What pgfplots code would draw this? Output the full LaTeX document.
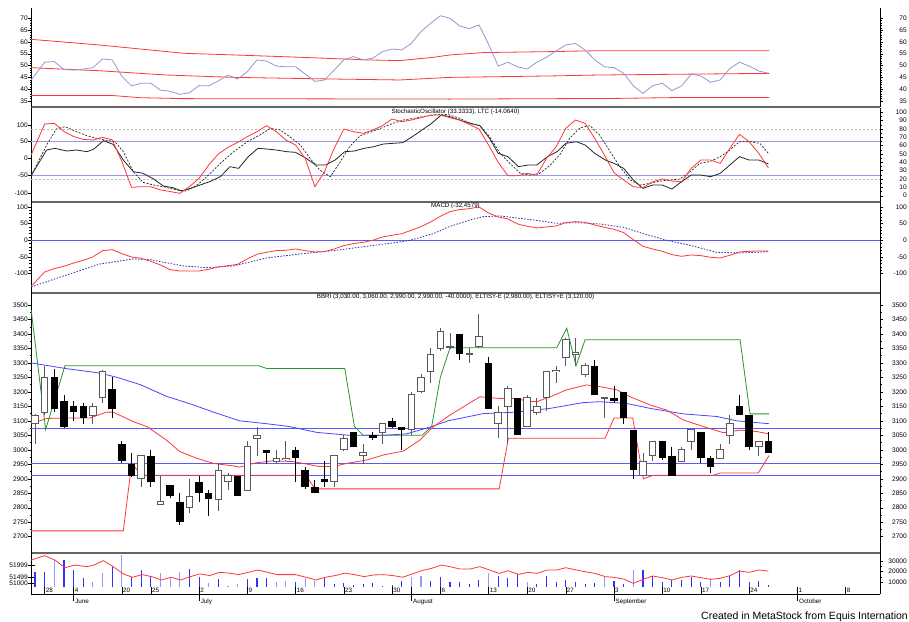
\documentclass[border=0pt]{standalone}
\usepackage{fontspec}
\setmainfont{Liberation Sans}
\usepackage{pgfplots}
\usepackage{pgfplotstable}
\pgfplotsset{compat=1.18}
\definecolor{mred}{RGB}{255,55,55}
\definecolor{mpurple}{RGB}{150,150,210}
\definecolor{mlblue}{RGB}{150,150,235}
\definecolor{mblue}{RGB}{70,70,255}
\definecolor{mhblue}{RGB}{90,90,255}
\definecolor{mnavy}{RGB}{50,50,160}
\definecolor{mgreen}{RGB}{40,150,40}
\definecolor{msep}{RGB}{100,100,100}
\definecolor{mvol}{RGB}{50,50,255}
\definecolor{mvoll}{RGB}{150,150,255}
\definecolor{mout}{RGB}{90,90,90}

\pgfplotstableread{
i o h l c
0 3090 3125 3020 3120
1 3130 3290 3120 3250
6 3120 3160 3090 3150
7 3180 3275 3160 3270
11 2900 2980 2870 2980
13 2810 2910 2810 2820
16 2800 2900 2780 2840
19 2830 2950 2790 2930
20 2890 2920 2860 2910
22 2860 3030 2860 3010
23 3040 3080 2980 3050
25 2960 3000 2950 2970
26 2965 3030 2960 2970
31 2890 2980 2870 2980
32 3000 3050 2995 3040
34 2980 3020 2950 2990
36 3060 3090 3020 3090
39 3070 3200 3050 3190
40 3200 3260 3195 3250
41 3270 3350 3230 3330
42 3350 3420 3340 3410
43 3355 3403 3348 3355
45 3330 3350 3300 3330
46 3355 3470 3350 3390
48 3090 3150 3040 3130
49 3150 3220 3020 3210
51 3080 3190 3080 3180
52 3130 3180 3120 3150
53 3180 3270 3135 3270
54 3270 3290 3230 3275
55 3320 3385 3290 3380
56 3330 3385 3290 3335
57 3260 3300 3250 3290
59 3180 3180 3110 3180
63 2910 2990 2910 2960
64 2980 3030 2960 3030
67 2960 3010 2960 3000
68 3030 3070 3000 3070
71 2970 3020 2970 3000
72 3050 3120 3020 3090
75 3010 3030 2980 3030
}\upcandles

\pgfplotstableread{
i o h l c
2 3250 3280 3130 3140
3 3170 3190 3075 3080
4 3150 3170 3100 3130
5 3150 3160 3090 3110
8 3210 3250 3110 3140
9 3020 3030 2955 2960
10 2950 2990 2905 2910
12 2980 3000 2870 2890
14 2880 2880 2835 2840
15 2820 2850 2740 2750
17 2890 2910 2820 2850
18 2850 2860 2770 2830
21 2910 2910 2840 2840
24 3000 3000 2950 2990
27 3000 3010 2890 2970
28 2930 2940 2865 2870
29 2870 2895 2850 2850
30 2900 2960 2870 2890
33 3060 3060 3010 3010
35 3050 3060 3035 3040
37 3100 3110 3075 3080
38 3080 3080 3000 3070
44 3400 3400 3310 3330
47 3300 3320 3140 3140
50 3180 3180 3050 3050
58 3290 3310 3190 3190
60 3180 3220 3160 3170
61 3200 3200 3090 3110
62 3070 3070 2900 2930
65 3030 3030 2965 2970
66 2980 3010 2910 2910
69 3060 3060 2955 2970
70 2970 2980 2920 2940
73 3150 3190 3120 3120
74 3120 3120 3000 3010
76 3030 3060 2990 2990
}\downcandles

\pgfplotsset{
  base/.style={scale only axis, width=849pt, xmin=-0.415, xmax=87.56,
    xtick=\empty, clip=true,
    tick align=outside,
    major tick length=3pt, minor tick length=1.5pt,
    every tick/.style={black, line width=0.4pt},
    tick label style={font=\fontsize{6.6}{7}\selectfont, inner sep=0pt},
    /pgf/number format/assume math mode=true,
    /pgf/number format/1000 sep={},
    axis line style={-},
  },
  leftax/.style={base, axis x line*=bottom, axis y line*=left,
    x axis line style={msep, line width=1.6pt, -},
    y axis line style={black, line width=0.5pt, -},
    ytick pos=left,
    yticklabel style={anchor=east}},
  rightax/.style={base, axis x line=none, axis y line*=right,
    y axis line style={black, line width=0.5pt, -},
    ytick pos=right, yticklabel pos=right,
    yticklabel style={anchor=east, xshift=24pt}},
}
\tikzset{ttl/.style={font=\fontsize{6.2}{7}\selectfont, inner sep=0.5pt, anchor=north}}

\begin{document}
\begin{tikzpicture}
\useasboundingbox[fill=white] (0,0) rectangle (909pt,621pt);

% ---------------- Panel 1 ----------------
\begin{axis}[leftax, at={(31pt,613pt)}, anchor=north west, height=99pt,
  ymin=32.46, ymax=74.37, ytick={35,40,45,50,55,60,65,70}, minor y tick num=4]
\addplot[mred, line width=0.8pt] coordinates {(-0.4,61.1) (6.7,58.7) (15.4,55.2) (20.6,54.5) (27.5,53.5) (34.4,52.4) (37.8,52.1) (41.3,53.5) (43,54.5) (46.5,55.5) (53.4,55.9) (58.5,56.3) (76.1,56.3)};
\addplot[mred, line width=0.8pt] coordinates {(-0.4,49.1) (6.7,47.8) (13.6,46.0) (20.6,45.0) (30.9,44.3) (37.8,43.9) (43,45.0) (53.4,45.6) (58.5,46.0) (76.1,46.7)};
\addplot[mred, line width=0.8pt] coordinates {(-0.4,37.3) (8.1,37.3) (10.9,36.4) (15.4,36.0) (43,35.8) (60.3,36.1) (67.2,36.5) (76.1,36.5)};
\addplot[mpurple, line width=0.8pt] coordinates {(-0.4,43.9) (0,46) (1,51.4) (2,51.7) (3,48.3) (4,48.1) (5,48.5) (6,49.1) (7,52.8) (8,52.4) (9,45.5) (10,41.4) (11,42.5) (12,42.5) (13,39.6) (14,39.1) (15,37.8) (16,38.5) (17,41.5) (18,41.4) (19,43.5) (20,46.0) (21,44.3) (22,47.4) (23,52.4) (24,51.9) (25,49.8) (26,49.5) (27,49.5) (28,46.4) (29,43.3) (30,43.9) (31,48.1) (32,52.4) (33,53.8) (34,52.4) (35,53.1) (36,55.9) (37,57.0) (38,56.6) (39,59.4) (40,64.4) (41,67.9) (42,71.1) (43,70.0) (44,66.8) (45,65.6) (46,67.2) (47,59) (48,49.8) (49,51.4) (50,49.5) (51,48.5) (52,51.4) (53,53.5) (54,56.2) (55,58.7) (56,59.4) (57,56.6) (58,52.4) (59,49.5) (60,49.1) (61,46.7) (62,41.4) (63,38.2) (64,41.5) (65,42.5) (66,39.4) (67,41.4) (68,46.4) (69,45.6) (70,42.9) (71,43.9) (72,48.8) (73,51.4) (74,49.8) (75,47.7) (76,46.7)};
\end{axis}
\begin{axis}[rightax, at={(31pt,613pt)}, anchor=north west, height=99pt,
  ymin=32.46, ymax=74.37, ytick={35,40,45,50,55,60,65,70}, minor y tick num=4]
\end{axis}

% ---------------- Panel 2: Stochastic ----------------
\begin{axis}[leftax, at={(31pt,513pt)}, anchor=north west, height=94pt,
  ymin=-7.55, ymax=105.2, ytick={2.84,24.0,44.8,64.8,84.8}, yticklabels={-100,-50,0,50,100}, minor y tick num=4]
\addplot[gray!55, dash pattern=on 2pt off 2pt, line width=0.6pt] coordinates {(-0.415,80) (87.56,80)};
\addplot[gray!55, dash pattern=on 2pt off 2pt, line width=0.6pt] coordinates {(-0.415,20) (87.56,20)};
\addplot[mlblue, line width=0.9pt] coordinates {(-0.415,64.5) (87.56,64.5)};
\addplot[mlblue, line width=0.9pt] coordinates {(-0.415,23.8) (87.56,23.8)};
\addplot[black!85, line width=0.7pt, dash pattern=on 2pt off 1.5pt] coordinates {(-0.4,24) (1.21,60.8) (2.2,80) (3.1,82.8) (4.3,76.8) (5.4,72) (6.4,68.8) (7.25,66.8) (8.3,64.8) (9.15,52.8) (10.2,28.8) (11.2,16) (12.3,12.8) (13.3,10.8) (14.7,6.8) (15.7,5.6) (16.8,12.8) (17.8,22.8) (19.2,38.8) (20.6,52.8) (22,64.8) (23.3,72.8) (24.4,80.8) (25.4,78.8) (26.4,70.8) (27.5,60.8) (28.5,44.8) (29.5,30.8) (30.6,22.8) (31.6,40) (32.6,58.8) (33.7,72) (34.7,76) (35.8,80.8) (37.1,86.8) (38.2,90.8) (39.2,92.8) (40.2,94.8) (41.3,96.8) (42.3,97.6) (43,96.8) (44,92.8) (45.1,86.8) (46.1,84) (47.1,70.8) (48.2,50.8) (49.2,38.8) (50.3,26.8) (51.3,24.8) (52.3,26.8) (53.4,36.8) (54.4,49.6) (55.4,68.8) (56.5,81.6) (57.5,84) (58.5,72.8) (59.6,52.8) (60.6,34.8) (61.7,18.8) (62.7,12.8) (63.7,14.8) (64.8,17.6) (65.8,18.8) (66.8,20) (67.9,28.8) (68.9,38.8) (69.9,40.8) (71,46.8) (72,54.8) (73,64.8) (74.1,64.8) (75.1,62.8) (76,50.8)};
\addplot[black!85, line width=0.8pt] coordinates {(-0.4,24) (1.2,54.8) (2.07,56.8) (3.3,53.6) (4.3,54.8) (5.4,52.8) (6.1,56) (7.1,66) (8.1,61.6) (9.15,42.8) (10.2,28.8) (11.2,26.8) (12.3,20) (13.3,11.6) (14.3,9.6) (15.2,5.6) (16.1,8.8) (17.1,12.8) (18.1,16.8) (19.2,22.8) (20.2,34.8) (21.1,32.8) (22.1,46.8) (23.1,56.8) (24,56) (25,54.8) (26.1,52.8) (27,52) (28.1,44.8) (29.1,36.8) (30.1,36.8) (31.1,42.8) (32.1,52.8) (33.1,53.6) (34.1,56.8) (35.1,58.8) (36.1,62) (37.1,62.8) (38.1,63.6) (39.1,70.8) (40.1,78.8) (41.1,86.8) (42.1,96.8) (43,94.8) (44,90.8) (45.1,86.8) (46.1,84) (47.1,68.8) (48,50.8) (49,46.8) (50.1,34.8) (51.1,36.8) (52,36.8) (53.1,46.8) (54.1,52.8) (55,62.8) (56.1,64.8) (57,60.8) (58,50.8) (59.1,42.8) (60,38.8) (61,32.8) (62,18.8) (63,8.8) (64,12.8) (65,12.8) (66,8) (67,16.8) (68,24.8) (69,24.8) (70,22.8) (71,26.8) (72,36.8) (73,46.8) (74,42.8) (75,42.8) (76,38.1)};
\addplot[mred, line width=0.8pt] coordinates {(-0.4,48.8) (1,86) (2,86.8) (3,77) (4,71) (5,67.5) (6,66.8) (7,70) (8,67) (9,41) (10,10) (11,10.8) (12,10.8) (13,7) (14,5) (15,2.8) (16,10.8) (17,20.8) (18,36.8) (19,50) (20,58) (21,64) (22,70.8) (23,76.8) (24,84) (25,76.8) (26,66.8) (27,60.8) (28,44.8) (29,10.8) (30,28.8) (31,56.8) (32,80) (33,76.8) (34,74.8) (35,78.8) (36,84) (37,92) (38,88.8) (39,90.8) (40,93.6) (41,96.8) (42,96.8) (43,93.6) (44,90.8) (45,85.6) (46,80) (47,60.8) (48,40) (49,24) (50,24) (51,26.8) (52,24.8) (53,44.8) (54,58.8) (55,80.8) (56,90.8) (57,86.8) (58,68.8) (59,48.8) (60,27.6) (61,18.8) (62,10.8) (63,9.6) (64,16.8) (65,20) (66,17.6) (67,16.8) (68,32.8) (69,42.8) (70,42.8) (71,38.8) (72,56.8) (73,73.6) (74,64.8) (75,50.8) (76,33.3)};
\node[ttl] at (rel axis cs:0.5,1) {StochasticOscillator (33.3333), LTC (-14.0640)};
\end{axis}
\begin{axis}[rightax, at={(31pt,513pt)}, anchor=north west, height=94pt,
  ymin=-7.55, ymax=105.2, ytick={0,10,...,100}, minor y tick num=1]
\end{axis}

% ---------------- Panel 3: MACD ----------------
\begin{axis}[leftax, at={(31pt,419pt)}, anchor=north west, height=91pt,
  ymin=-158.1, ymax=114.9, ytick={-100,-50,0,50,100}, yticklabels={-100,-50,0,50,100}, minor y tick num=4]
\addplot[mhblue, line width=0.9pt] coordinates {(-0.415,0) (87.56,0)};
\addplot[mnavy, line width=0.8pt, dash pattern=on 1.5pt off 1.5pt] coordinates {(-0.4,-140) (3.28,-104) (6.74,-71) (10.19,-56) (11.92,-58) (15.37,-77) (17.79,-82) (20.55,-77) (24,-53) (27.46,-41) (30.92,-31) (34.37,-18) (37.82,-5) (38.86,0) (41.28,20) (43,42) (45.08,61) (46.46,71) (48.19,73) (51.64,61) (54.06,51) (56.13,53) (58.55,49) (60.97,39) (63.04,20) (65.46,0) (67.88,-15) (70.64,-36) (73.06,-38) (76.06,-34)};
\addplot[mred, line width=0.8pt] coordinates {(-0.4,-138) (1,-95) (2,-85) (3,-78) (4,-68) (5,-60) (6,-50) (7,-31) (8,-28) (9,-40) (10,-50) (11,-54) (12,-63) (13,-74) (14,-88) (15,-92) (16,-92) (17,-92) (18,-87) (19,-80) (20,-76) (21,-72) (22,-56) (23,-42) (24,-36) (25,-31) (26,-30) (27,-26) (28,-31) (29,-35) (30,-34) (31,-26) (32,-16) (33,-10) (34,-6) (35,0) (36,10) (37,15) (38,20) (39,30) (40,41) (41,55) (42,72) (43,86) (44,92) (45,95) (46,100) (47,82) (48,70) (49,64) (50,49) (51,42) (52,37) (53,40) (54,43) (55,53) (56,56) (57,54) (58,46) (59,39) (60,33) (61,23) (62,2) (63,-18) (64,-26) (65,-33) (66,-43) (67,-48) (68,-44) (69,-46) (70,-51) (71,-53) (72,-45) (73,-35) (74,-33) (75,-32) (76,-32.5)};
\node[ttl] at (rel axis cs:0.5,1) {MACD (-32.4579)};
\end{axis}
\begin{axis}[rightax, at={(31pt,419pt)}, anchor=north west, height=91pt,
  ymin=-158.1, ymax=114.9, ytick={-100,-50,0,50,100}, yticklabels={-100,-50,0,50,100}, minor y tick num=4]
\end{axis}

% ---------------- Panel 4: Price ----------------
\begin{axis}[leftax, at={(31pt,328pt)}, anchor=north west, height=260pt,
  ymin=2643.6, ymax=3541.4, ytick={2700,2750,...,3500}, minor y tick num=1]
\addplot[mhblue, line width=0.8pt] coordinates {(-0.415,3075) (87.56,3075)};
\addplot[mhblue, line width=0.8pt] coordinates {(-0.415,2952) (87.56,2952)};
\addplot[mhblue, line width=0.8pt] coordinates {(-0.415,2913) (87.56,2913)};
\addplot[mred, line width=0.8pt] coordinates {(-0.4,2720) (9.15,2720) (10.02,2953) (11.05,2912) (28.08,2912) (29.01,2865) (48.1,2865) (49.05,3040) (59.07,3040) (60.0,3110) (61.93,3110) (63.04,2900) (64.08,2912) (70.3,2912) (70.98,2920) (74.95,2920) (76.06,2980)};
\addplot[mgreen, line width=0.8pt] coordinates {(-0.4,3483) (1.1,3070) (3.1,3290) (23.2,3290) (24,3281) (32.1,3281) (33.1,3080) (34,3050) (40.1,3050) (41.1,3080) (42,3250) (43,3352) (54.06,3352) (55.1,3420) (56.06,3290) (57.0,3380) (73.06,3380) (74.09,3124) (76.06,3124)};
\addplot[mblue, line width=0.8pt] coordinates {(-0.4,3300) (3.3,3280) (6.7,3265) (8.5,3250) (10.9,3225) (13.6,3185) (16.4,3155) (18.5,3130) (21.2,3100) (24,3090) (26.4,3080) (29.2,3060) (30.9,3055) (32.6,3050) (36.1,3050) (38.5,3055) (40.9,3078) (42.8,3100) (46.46,3125) (49.9,3130) (53.37,3143) (56.82,3163) (58.55,3166) (61.31,3160) (63.73,3143) (67.18,3124) (70.64,3115) (72.71,3100) (76.06,3090)};
\addplot[mred, line width=0.8pt] coordinates {(-0.4,3090) (1.2,3108) (3.3,3110) (5.7,3110) (7.4,3130) (8.1,3130) (10.2,3097) (11.6,3080) (13.6,3034) (15,2994) (16.8,2970) (18.5,2953) (20.6,2944) (21.2,2940) (22.9,2955) (24.7,2962) (26.8,2959) (28.1,2951) (29.5,2942) (30.9,2942) (32.3,2953) (34.4,2965) (36.1,2982) (38.2,2996) (39.9,3034) (41.3,3080) (43,3120) (46.1,3183) (48.19,3177) (49.91,3177) (50.95,3168) (51.99,3166) (53.37,3183) (55.09,3207) (57.17,3224) (58.55,3218) (60.28,3207) (61.66,3183) (63.73,3155) (65.46,3137) (67.18,3103) (69.26,3080) (71.33,3059) (73.06,3068) (74.78,3063) (76.06,3055)};
% wicks
\addplot[draw=none, mark=none, error bars/.cd, y dir=both, y explicit, error mark=none, error bar style={draw=black, line width=0.9pt}]
  table[x=i, y expr={(\thisrow{h}+\thisrow{l})/2}, y error expr={(\thisrow{h}-\thisrow{l})/2}] {\downcandles};
\addplot[draw=none, mark=none, error bars/.cd, y dir=both, y explicit, error mark=none, error bar style={draw=mout, line width=0.9pt}]
  table[x=i, y expr={(\thisrow{h}+\thisrow{l})/2}, y error expr={(\thisrow{h}-\thisrow{l})/2}] {\upcandles};
% bodies
\addplot[draw=none, mark=none, error bars/.cd, y dir=both, y explicit, error mark=none, error bar style={draw=black, line width=7.5pt}]
  table[x=i, y expr={(\thisrow{o}+\thisrow{c})/2}, y error expr={max(abs(\thisrow{c}-\thisrow{o})/2,1.6)}] {\downcandles};
\addplot[draw=none, mark=none, error bars/.cd, y dir=both, y explicit, error mark=none, error bar style={draw=mout, line width=7.5pt}]
  table[x=i, y expr={(\thisrow{o}+\thisrow{c})/2}, y error expr={max(abs(\thisrow{c}-\thisrow{o})/2,1.6)+1.7}] {\upcandles};
\addplot[draw=none, mark=none, error bars/.cd, y dir=both, y explicit, error mark=none, error bar style={draw=white, line width=5.5pt}]
  table[x=i, y expr={(\thisrow{o}+\thisrow{c})/2}, y error expr={max(abs(\thisrow{c}-\thisrow{o})/2-1.7,0)}] {\upcandles};
\node[ttl] at (rel axis cs:0.5,1) {BBRI (3,030.00, 3,060.00, 2,990.00, 2,990.00, -40.0000), ELTISY-E (2,980.00), ELTISY+E (3,120.00)};
\end{axis}
\begin{axis}[rightax, at={(31pt,328pt)}, anchor=north west, height=260pt,
  ymin=2643.6, ymax=3541.4, ytick={2700,2750,...,3500}, minor y tick num=1]
\end{axis}

% ---------------- Panel 5: Volume ----------------
\begin{axis}[leftax, at={(31pt,68pt)}, anchor=north west, height=41pt,
  ymin=-6.95, ymax=32.1,
  x axis line style={black, line width=0.6pt, -},
  tick align=inside, ytick style={xshift=-3pt},
  ytick={3.5,9.2,20.7}, yticklabels={51000,51499,51999},
  xtick={1,4,9,12,17,22,27,32,37,42,47,51,55,60,65,69,74,79,84},
  xticklabels={28,4,20,25,2,9,16,23,30,6,13,20,27,3,10,17,24,1,8},
  major tick length=7pt,
  xticklabel style={anchor=south west, inner sep=1pt, font=\fontsize{6.3}{7}\selectfont},
  extra x ticks={4,17,39,60,79},
  extra x tick labels={June,July,August,September,October},
  extra x tick style={tick align=center, major tick length=14pt,
     xticklabel style={anchor=north west, inner sep=1.5pt, yshift=4pt}},
  yticklabel style={anchor=east, xshift=-3pt}]
\addplot[ycomb, mvol, line width=1.1pt, mark=none] coordinates {(0,13.7) (1,13.7) (3,25.4) (4,15.9) (5,8.6) (8,20.0) (10,9.6) (11,15.9) (12,9.3) (16,16.9) (17,9.6) (19,7.3) (22,7.3) (23,8.0) (24,8.0) (27,4.1) (30,9.6) (31,2.2) (32,3.2) (33,1.6) (34,2.2) (35,3.8) (36,0.5) (37,1.6) (38,5.4) (41,5.4) (42,8.9) (43,4.1) (44,4.1) (45,2.2) (46,6.4) (48,10.5) (49,8.6) (50,11.8) (52,2.2) (53,10.5) (54,4.1) (55,6.4) (56,4.8) (57,2.2) (58,3.2) (60,5.4) (61,2.2) (63,15.9) (64,10.2) (65,4.1) (66,6.4) (67,6.4) (68,9.6) (69,4.8) (71,4.8) (72,10.5) (73,15.9) (74,4.1) (75,5.4) (76,1.6)};
\addplot[ycomb, mvoll, line width=1.1pt, mark=none] coordinates {(2,25.4) (6,4.8) (7,13.4) (9,30.2) (13,13.4) (14,8.0) (15,14.3) (18,3.2) (20,1.0) (21,2.2) (25,4.8) (26,5.4) (28,8.6) (29,5.4) (39,9.6) (40,10.5) (47,13.4) (51,4.8) (59,9.6) (62,15.9) (70,8.0)};
\addplot[mred, line width=0.8pt] coordinates {(-0.4,25.4) (1,29.6) (2.07,25.4) (3.1,18.1) (4.1,20.6) (5.4,19.1) (6.1,20.6) (7.1,24.8) (8.1,19.1) (9.15,12.2) (10.1,9.0) (11.1,11.5) (12.1,9.6) (13.1,6.4) (14.1,9.0) (15.1,6.4) (16.1,9.6) (17.1,12.2) (18.1,10.6) (19.1,13.7) (20.1,13.0) (21.1,11.5) (22.1,13.7) (23.1,15.9) (24.1,13.7) (25.1,11.5) (26.1,11.5) (27,11.5) (28.1,9.0) (29.1,6.4) (30.1,9.0) (31.1,10.6) (32.1,12.9) (33.1,11.5) (34.1,9.6) (35.1,11.2) (36.1,11.5) (37.1,10.6) (38.1,9.0) (39.1,12.2) (40.1,15.4) (41.1,17.5) (42.1,20.6) (43,19.1) (44,16.9) (45.1,16.9) (46.1,19.1) (47.1,15.9) (48.1,12.7) (49,15.2) (50.1,11.8) (51.1,13.7) (52,12.7) (53.1,15.9) (54.1,15.9) (55,18.1) (56.1,15.9) (57,14.3) (58,12.7) (59.1,9.6) (60,8.9) (61,7.3) (62,3.2) (63,7.0) (64,10.2) (65,8.6) (66,6.4) (67,8.9) (68,10.2) (69,8.6) (70,7.0) (71,8.0) (72,10.5) (73,14.9) (74,13.7) (75,15.9) (76,14.9)};
\end{axis}
\begin{axis}[rightax, at={(31pt,68pt)}, anchor=north west, height=41pt,
  ymin=-6.95, ymax=32.1, ytick={4.5,14.5,24.5}, yticklabels={10000,20000,30000}, minor y tick num=1]
\end{axis}

\node[anchor=base east, font=\fontsize{10.5}{12}\selectfont, inner sep=0pt] at (908pt,2pt) {Created in MetaStock from Equis Internation};
\end{tikzpicture}
\end{document}
